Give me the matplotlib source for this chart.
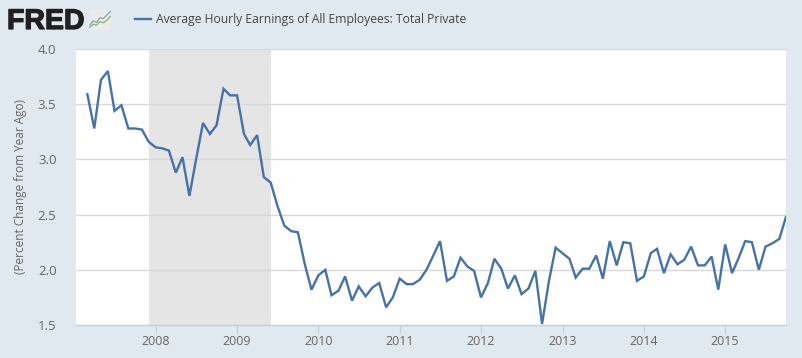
import pandas as pd
import matplotlib
matplotlib.use('Agg')
import matplotlib.pyplot as plt
import matplotlib.dates as mdates
import matplotlib.patheffects as pe

plt.rcParams['font.family'] = ['Open Sans', 'DejaVu Sans']

W, H = 802, 358

series_name = 'Average Hourly Earnings of All Employees: Total Private'
y_label = '(Percent Change from Year Ago)'

start_month = '2007-03-01'
recession_start = '2007-12-01'
recession_end = '2009-06-01'

values = [
    3.59, 3.28, 3.72, 3.80, 3.44, 3.49, 3.28, 3.28, 3.27, 3.16,
    3.11, 3.10, 3.08, 2.88, 3.02, 2.67, 3.00, 3.33, 3.23, 3.31, 3.64, 3.58,
    3.58, 3.23, 3.13, 3.22, 2.84, 2.79, 2.58, 2.40, 2.35, 2.34, 2.05, 1.82,
    1.95, 2.00, 1.77, 1.81, 1.94, 1.72, 1.85, 1.76, 1.84, 1.88, 1.66, 1.75,
    1.92, 1.87, 1.87, 1.91, 2.00, 2.13, 2.26, 1.90, 1.94, 2.11, 2.03, 1.99,
    1.75, 1.88, 2.10, 2.01, 1.83, 1.95, 1.78, 1.83, 1.99, 1.51, 1.90, 2.20,
    2.15, 2.10, 1.93, 2.01, 2.01, 2.13, 1.92, 2.26, 2.04, 2.25, 2.24, 1.90,
    1.94, 2.15, 2.19, 1.97, 2.14, 2.05, 2.09, 2.21, 2.04, 2.04, 2.12, 1.82,
    2.23, 1.97, 2.10, 2.26, 2.25, 2.00, 2.21, 2.24, 2.28, 2.48,
]
y_ticks = [1.5, 2.0, 2.5, 3.0, 3.5, 4.0]

# logo icon lines
icon_x = [0, 1, 2, 3, 4, 5, 6]
icon_blue = [1.0, 2.2, 1.8, 3.2, 2.9, 4.0, 5.0]
icon_green = [0.3, 1.2, 1.0, 2.0, 1.7, 2.4, 3.6]


def main():

    bg = '#e1e9f0'
    fig = plt.figure(figsize=(W/100, H/100), dpi=100, facecolor=bg)

    ax = fig.add_axes([76/W, 1-325/H, (786-76)/W, (325-49)/H])
    dates = pd.date_range(start_month, periods=len(values), freq='MS')

    # band sits on top of the grid, the reference hides the gridlines under it
    ax.axvspan(pd.Timestamp(recession_start), pd.Timestamp(recession_end),
               color='#e5e5e5', lw=0, zorder=2.5)
    ax.plot(dates, values, color='#4572a7', lw=1.7, zorder=3,
            solid_joinstyle='miter')

    ax.set_xlim(pd.Timestamp('2007-01-09'), pd.Timestamp('2015-10-01'))
    ax.set_ylim(1.5, 4.0)
    ax.set_yticks(y_ticks)
    ax.set_yticklabels(['%.1f' % v for v in y_ticks])
    ax.xaxis.set_major_locator(mdates.YearLocator())
    ax.xaxis.set_major_formatter(mdates.DateFormatter('%Y'))

    ax.grid(axis='y', color='#d8d8d8', lw=1)
    ax.set_axisbelow(False)
    for l in ax.get_ygridlines():
        l.set_zorder(2)

    for s in ['top', 'left', 'right']:
        ax.spines[s].set_visible(False)
    ax.spines['bottom'].set_color('#c0d0e0')
    ax.spines['bottom'].set_linewidth(1)

    ax.tick_params(axis='y', length=0, pad=14, labelsize=9.5, labelcolor='#666666')
    ax.tick_params(axis='x', length=6, width=1, color='#c0d0e0', pad=1.5,
                   labelsize=9, labelcolor='#666666')

    fig.text(21/W, 1-187/H, y_label, rotation=90, ha='center', va='center',
             fontsize=8.5, color='#666666')

    # header: logo and legend
    fig.text(7/W, 1-29/H, 'FRED', family=['Liberation Sans', 'DejaVu Sans'],
             weight='bold', fontsize=20.5, color='#231f20', ha='left', va='baseline',
             path_effects=[pe.withStroke(linewidth=0.9, foreground='#231f20')])

    icon = fig.add_axes([89/W, 1-30/H, 22/W, 20/H], facecolor='#e9ecea')
    icon.plot(icon_x, icon_blue, color='#7ba3c4', lw=0.9)
    icon.plot(icon_x, icon_green, color='#8fb06a', lw=0.9)
    icon.set_xlim(-0.2, 6.2)
    icon.set_ylim(-0.5, 5.5)
    icon.set_xticks([])
    icon.set_yticks([])
    for s in icon.spines.values():
        s.set_visible(False)

    fig.add_artist(plt.Line2D([135/W, 151/W], [1-19/H, 1-19/H], color='#4572a7', lw=1.7))
    fig.text(156/W, 1-19/H, series_name, fontsize=8.7, color='#444444',
             ha='left', va='center')

    fig.savefig('out.png', dpi=100, facecolor=bg)


if __name__ == "__main__":
    main()
